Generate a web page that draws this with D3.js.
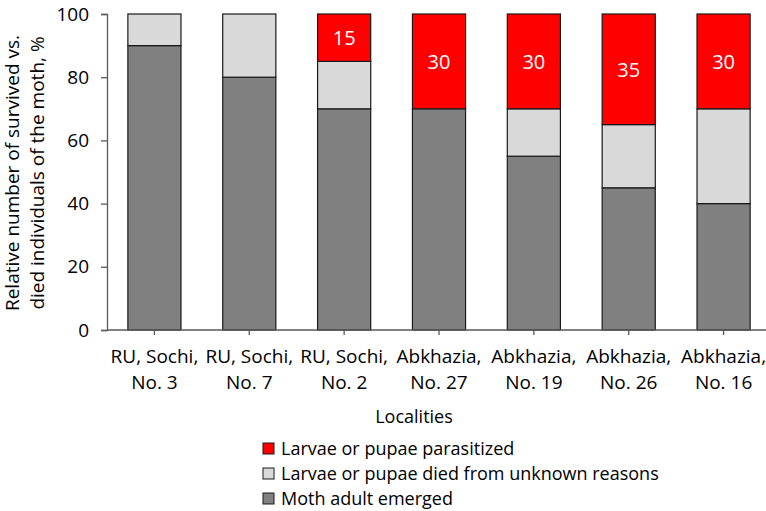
<!DOCTYPE html>
<html>
<head>
<meta charset="utf-8">
<script src="https://cdn.jsdelivr.net/npm/d3@7"></script>
<style>
  body { margin: 0; background: #fff; }
  svg text { font-family: "Open Sans", sans-serif; fill: #000; }
</style>
</head>
<body>
<div id="chart"></div>
<script>
// Data
const localities = [
  ['RU, Sochi,', 'No. 3'],
  ['RU, Sochi,', 'No. 7'],
  ['RU, Sochi,', 'No. 2'],
  ['Abkhazia,', 'No. 27'],
  ['Abkhazia,', 'No. 19'],
  ['Abkhazia,', 'No. 26'],
  ['Abkhazia,', 'No. 16']
];
const emerged = [90, 80, 70, 70, 55, 45, 40];
const diedUnknown = [10, 20, 15, 0, 15, 20, 30];
const parasitized = [0, 0, 15, 30, 30, 35, 30];
const yTicks = [0, 20, 40, 60, 80, 100];

const seriesNames = ['Moth adult emerged', 'Larvae or pupae died from unknown reasons', 'Larvae or pupae parasitized'];
const seriesColors = ['#808080', '#d9d9d9', '#ff0000'];

const W = 766, H = 511;
const svg = d3.select('#chart').append('svg')
  .attr('width', W)
  .attr('height', H);

const keys = ['emerged', 'unknown', 'parasitized'];
const rows = localities.map((l, i) => ({
  name: l.join(' '),
  label: l,
  emerged: emerged[i],
  unknown: diedUnknown[i],
  parasitized: parasitized[i]
}));

const x = d3.scaleBand()
  .domain(rows.map(d => d.name))
  .range([107, 771])
  .paddingInner(0.44)
  .paddingOuter(0.22);

const y = d3.scaleLinear()
  .domain([0, 100])
  .range([330, 14]);

const stack = d3.stack().keys(keys)(rows);

// bars
svg.append('g')
  .selectAll('g')
  .data(stack)
  .join('g')
  .attr('fill', (d, i) => seriesColors[i])
  .selectAll('rect')
  .data(d => d.filter(s => s[1] - s[0] > 0))
  .join('rect')
  .attr('x', d => x(d.data.name))
  .attr('y', d => y(d[1]))
  .attr('width', x.bandwidth())
  .attr('height', d => y(d[0]) - y(d[1]))
  .attr('stroke', '#1a1a1a')
  .attr('stroke-width', 1.2);

// value labels on parasitized segments
svg.append('g')
  .selectAll('text')
  .data(stack[2].filter(s => s[1] - s[0] > 0))
  .join('text')
  .attr('x', d => x(d.data.name) + x.bandwidth() / 2)
  .attr('y', d => (y(d[0]) + y(d[1])) / 2)
  .attr('dy', '0.36em')
  .attr('text-anchor', 'middle')
  .style('font-size', '20px')
  .style('fill', '#fff')
  .text(d => d.data.parasitized);

// y axis
const yAxis = svg.append('g')
  .attr('transform', 'translate(107,0)')
  .call(d3.axisLeft(y).tickValues(yTicks).tickSize(6).tickPadding(12));
yAxis.selectAll('text').style('font-size', '19px');

// x axis
const xAxis = svg.append('g')
  .attr('transform', 'translate(0,330)')
  .call(d3.axisBottom(x).tickSize(5).tickFormat(''));
xAxis.select('.domain').attr('d', 'M107,0H771');

[yAxis, xAxis].forEach(a => {
  a.select('.domain').attr('stroke', '#595959').attr('stroke-width', 1.3);
  a.selectAll('.tick line').attr('stroke', '#595959').attr('stroke-width', 1.3);
});

// two-line category labels
const xl = svg.append('g')
  .selectAll('text')
  .data(rows)
  .join('text')
  .attr('text-anchor', 'middle')
  .style('font-size', '19px')
  .attr('transform', d => `translate(${x(d.name) + x.bandwidth() / 2},363)`);
xl.append('tspan').attr('x', 0).attr('y', 0).text(d => d.label[0]);
xl.append('tspan').attr('x', 0).attr('y', 26).text(d => d.label[1]);

// axis titles
svg.append('text')
  .attr('x', 414)
  .attr('y', 423)
  .attr('text-anchor', 'middle')
  .style('font-size', '18px')
  .text('Localities');

const yt = svg.append('text')
  .attr('transform', 'translate(0,173) rotate(-90)')
  .attr('text-anchor', 'middle')
  .style('font-size', '19px');
yt.append('tspan').attr('x', 0).attr('y', 19).text('Relative number of survived vs.');
yt.append('tspan').attr('x', 0).attr('y', 44).text('died individuals of the moth, %');

// legend (top-down: parasitized, unknown, emerged)
const legendOrder = [2, 1, 0];
const lg = svg.append('g')
  .selectAll('g')
  .data(legendOrder)
  .join('g')
  .attr('transform', (d, i) => `translate(263,${443 + i * 25})`);
lg.append('rect')
  .attr('width', 11)
  .attr('height', 11)
  .attr('fill', d => seriesColors[d])
  .attr('stroke', '#1a1a1a')
  .attr('stroke-width', 1);
lg.append('text')
  .attr('x', 18)
  .attr('y', 5.5)
  .attr('dy', '0.36em')
  .style('font-size', '18px')
  .text(d => seriesNames[d]);
</script>
</body>
</html>
